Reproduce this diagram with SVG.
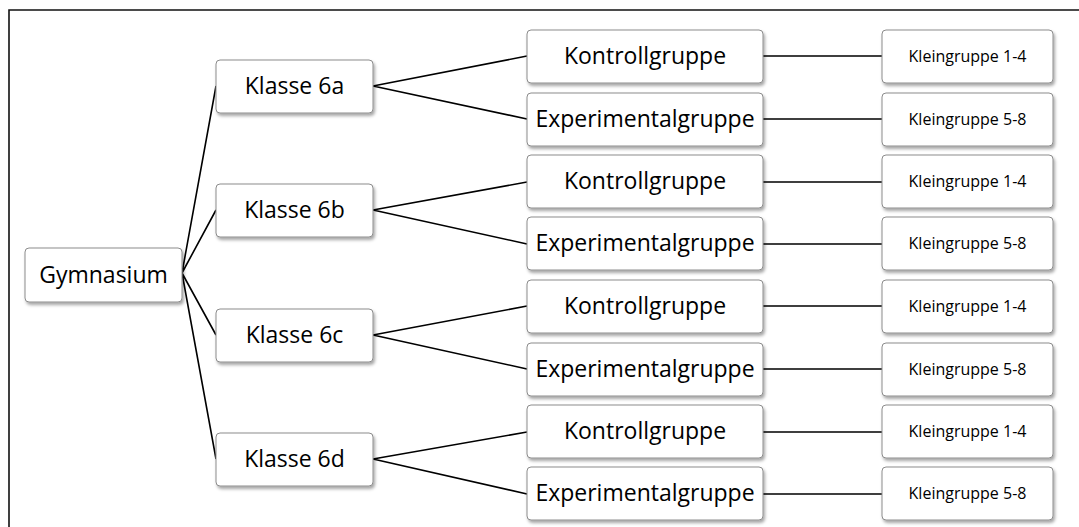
<svg xmlns="http://www.w3.org/2000/svg" width="1079" height="527" viewBox="0 0 1079 527">
<defs>
<filter id="sh" x="-10%" y="-10%" width="130%" height="140%">
<feDropShadow dx="1.5" dy="2.5" stdDeviation="1.5" flood-color="#000" flood-opacity="0.35"/>
</filter>
<style>
.box{fill:#fff;stroke:#8c8c8c;stroke-width:1;filter:url(#sh)}
.t{font-family:"Open Sans","Noto Sans",sans-serif;font-size:23px;fill:#000;text-anchor:middle}
.s{font-family:"Open Sans","Noto Sans",sans-serif;font-size:16px;fill:#000;text-anchor:middle}
.c{stroke:#000;stroke-width:1.6;fill:none}
</style>
</defs>
<rect width="1079" height="527" fill="#fff"/>
<path d="M9,527 V10 H1079" fill="none" stroke="#111" stroke-width="1.6"/>
<g id="connectors" class="c">
<path d="M182,273 L216,86 M182,273 L216,210 M182,273 L216,335 M182,273 L216,459"/>
<path d="M373,86 L527,56 M373,86 L527,119"/>
<path d="M373,210 L527,182 M373,210 L527,244"/>
<path d="M373,335 L527,306 M373,335 L527,369"/>
<path d="M373,459 L527,432 M373,459 L527,494"/>
<path d="M763,56 H882 M763,119 H882 M763,182 H882 M763,244 H882 M763,306 H882 M763,369 H882 M763,432 H882 M763,494 H882"/>
</g>
<g id="gymnasium"><rect class="box" x="25" y="248" width="157" height="54" rx="4"/><text class="t" x="103.5" y="283">Gymnasium</text></g>
<g id="klasse6a"><rect class="box" x="216" y="60" width="157" height="53" rx="4"/><text class="t" x="294.5" y="94">Klasse 6a</text></g>
<g id="klasse6b"><rect class="box" x="216" y="184" width="157" height="53" rx="4"/><text class="t" x="294.5" y="218">Klasse 6b</text></g>
<g id="klasse6c"><rect class="box" x="216" y="309" width="157" height="53" rx="4"/><text class="t" x="294.5" y="343">Klasse 6c</text></g>
<g id="klasse6d"><rect class="box" x="216" y="433" width="157" height="53" rx="4"/><text class="t" x="294.5" y="467">Klasse 6d</text></g>
<g id="kontroll-a"><rect class="box" x="527" y="30" width="236" height="53" rx="4"/><text class="t" x="645" y="64">Kontrollgruppe</text></g>
<g id="exp-a"><rect class="box" x="527" y="93" width="236" height="53" rx="4"/><text class="t" x="645" y="127">Experimentalgruppe</text></g>
<g id="kontroll-b"><rect class="box" x="527" y="155" width="236" height="53" rx="4"/><text class="t" x="645" y="189">Kontrollgruppe</text></g>
<g id="exp-b"><rect class="box" x="527" y="217" width="236" height="53" rx="4"/><text class="t" x="645" y="251">Experimentalgruppe</text></g>
<g id="kontroll-c"><rect class="box" x="527" y="280" width="236" height="53" rx="4"/><text class="t" x="645" y="314">Kontrollgruppe</text></g>
<g id="exp-c"><rect class="box" x="527" y="343" width="236" height="53" rx="4"/><text class="t" x="645" y="377">Experimentalgruppe</text></g>
<g id="kontroll-d"><rect class="box" x="527" y="405" width="236" height="53" rx="4"/><text class="t" x="645" y="439">Kontrollgruppe</text></g>
<g id="exp-d"><rect class="box" x="527" y="467" width="236" height="53" rx="4"/><text class="t" x="645" y="501">Experimentalgruppe</text></g>
<g id="klein-a1"><rect class="box" x="882" y="30" width="171" height="53" rx="4"/><text class="s" x="967.5" y="62">Kleingruppe 1-4</text></g>
<g id="klein-a2"><rect class="box" x="882" y="93" width="171" height="53" rx="4"/><text class="s" x="967.5" y="125">Kleingruppe 5-8</text></g>
<g id="klein-b1"><rect class="box" x="882" y="155" width="171" height="53" rx="4"/><text class="s" x="967.5" y="187">Kleingruppe 1-4</text></g>
<g id="klein-b2"><rect class="box" x="882" y="217" width="171" height="53" rx="4"/><text class="s" x="967.5" y="249">Kleingruppe 5-8</text></g>
<g id="klein-c1"><rect class="box" x="882" y="280" width="171" height="53" rx="4"/><text class="s" x="967.5" y="312">Kleingruppe 1-4</text></g>
<g id="klein-c2"><rect class="box" x="882" y="343" width="171" height="53" rx="4"/><text class="s" x="967.5" y="375">Kleingruppe 5-8</text></g>
<g id="klein-d1"><rect class="box" x="882" y="405" width="171" height="53" rx="4"/><text class="s" x="967.5" y="437">Kleingruppe 1-4</text></g>
<g id="klein-d2"><rect class="box" x="882" y="467" width="171" height="53" rx="4"/><text class="s" x="967.5" y="499">Kleingruppe 5-8</text></g>
</svg>
